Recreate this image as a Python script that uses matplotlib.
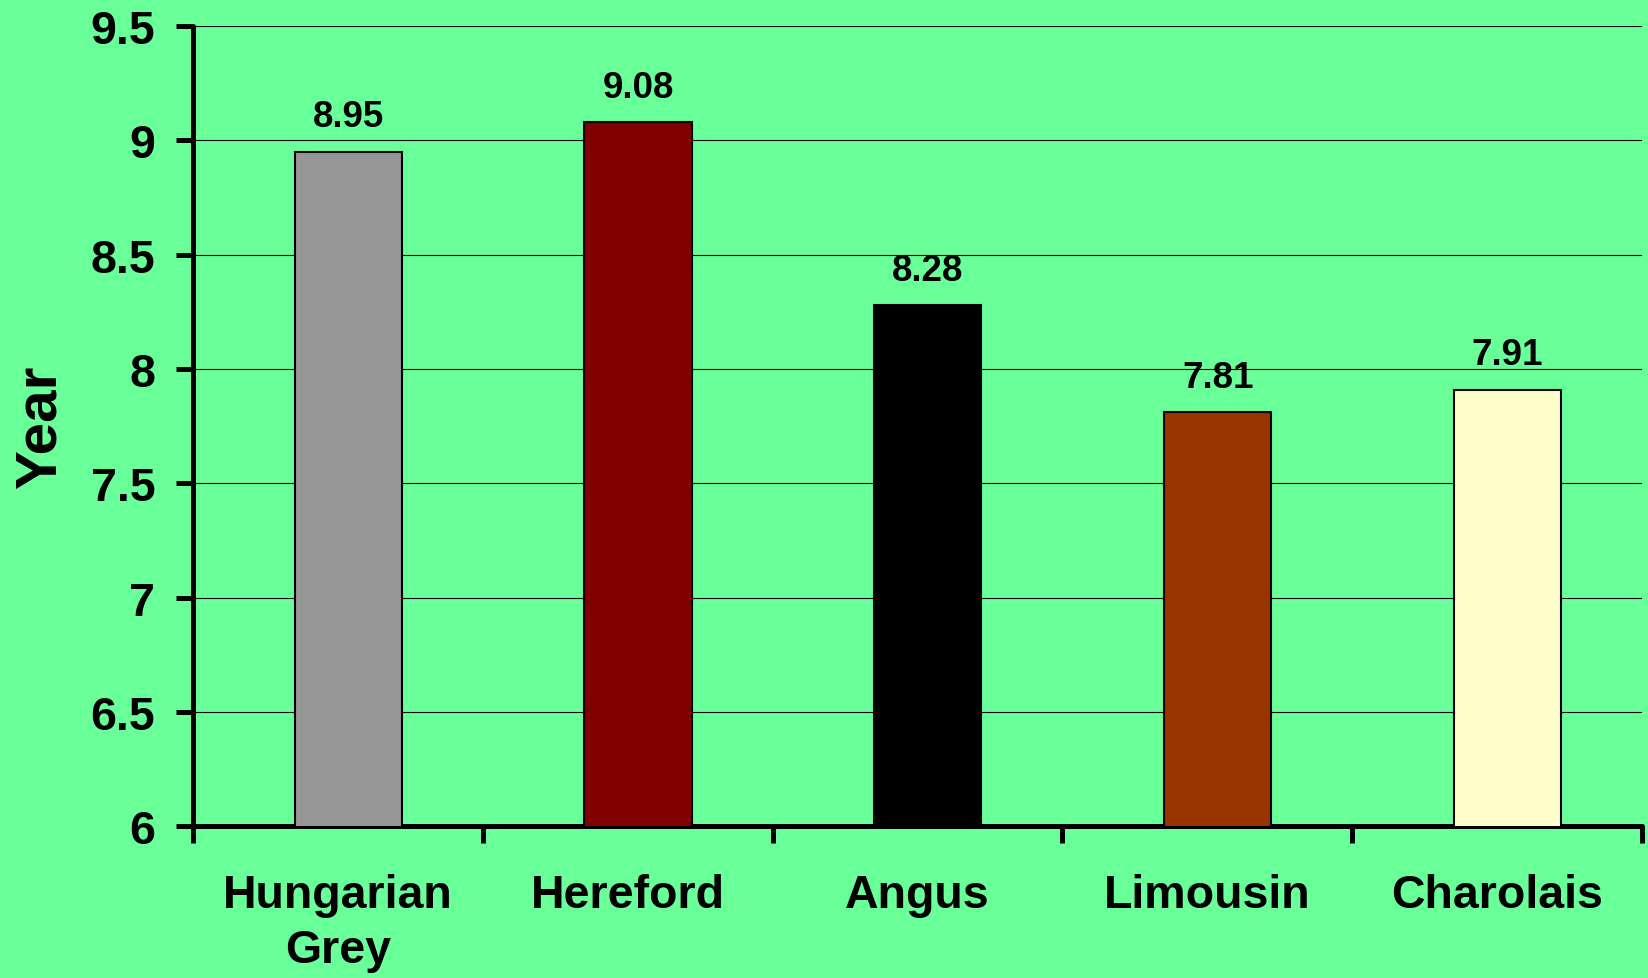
import numpy as np
import matplotlib
matplotlib.use("Agg")
import matplotlib.pyplot as plt

# data
breeds = ["Hungarian\nGrey", "Hereford", "Angus", "Limousin", "Charolais"]
years = [8.95, 9.08, 8.28, 7.81, 7.91]
bar_colors = ["#969696", "#800000", "#000000", "#993300", "#FFFFCC"]
yticks = [6, 6.5, 7, 7.5, 8, 8.5, 9, 9.5]
ytick_labels = ["6", "6.5", "7", "7.5", "8", "8.5", "9", "9.5"]

bg = "#69FF99"
plt.rcParams['font.family'] = ['Liberation Sans', 'DejaVu Sans']
plt.rcParams['font.weight'] = 'bold'

fig = plt.figure(figsize=(16.48, 9.79), dpi=100, facecolor=bg)
ax = fig.add_axes([0.117, 0.155, 0.8794, 0.8174], facecolor=bg)

x = np.arange(len(breeds))
bars = ax.bar(x + 0.036, years, width=0.37, bottom=0, color=bar_colors,
              edgecolor="black", linewidth=1.5, zorder=3)

for xi, v in zip(x, years):
    ax.annotate(f"{v:.2f}", (xi + 0.036, v), xytext=(0, 12.5), textcoords="offset points",
                ha="center", va="bottom", fontsize=26.5, fontweight="bold")

ax.set_ylim(6, 9.5)
ax.set_xlim(-0.5, len(breeds) - 0.5)
ax.set_yticks(yticks)
ax.set_yticklabels(ytick_labels)
ax.yaxis.grid(True, color="black", linewidth=0.8, zorder=0)
ax.set_axisbelow(True)

# tick marks at category boundaries, labels at centres
ax.set_xticks(np.arange(len(breeds) + 1) - 0.5)
ax.set_xticklabels([])
ax.set_xticks(x, minor=True)
ax.set_xticklabels(breeds, minor=True, fontsize=33.5, fontweight="bold", linespacing=1.32)
ax.tick_params(axis="x", which="minor", length=0, pad=34)
ax.tick_params(axis="x", which="major", length=12, width=3.6, direction="out")
ax.tick_params(axis="y", length=12, width=3.6, pad=15, labelsize=33.5)
for lab in ax.get_yticklabels():
    lab.set_fontweight("bold")

for s in ["top", "right"]:
    ax.spines[s].set_visible(False)
for s in ["left", "bottom"]:
    ax.spines[s].set_linewidth(3.6)
    ax.spines[s].set_capstyle("round")

ax.set_ylabel("Year", fontsize=42, fontweight="bold", labelpad=17)

fig.savefig("out.png", dpi=100, facecolor=bg)
